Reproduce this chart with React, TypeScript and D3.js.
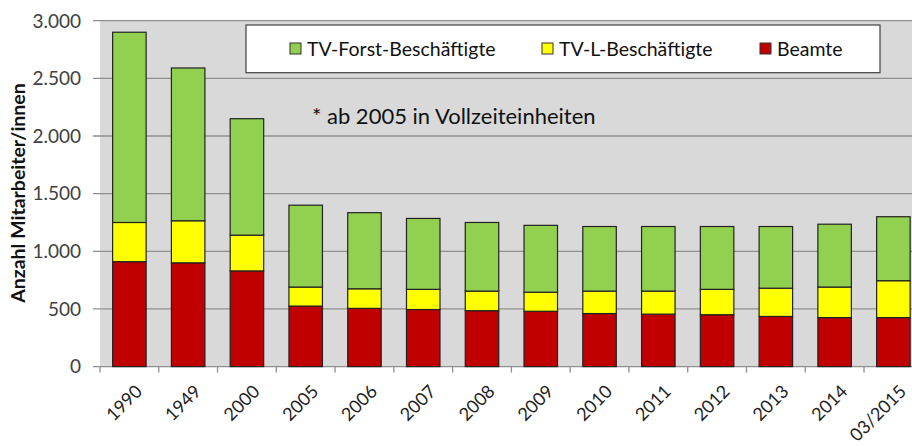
import { scaleBand, scaleLinear, stack, formatLocale } from "d3";

const categories = ["1990", "1949", "2000", "2005", "2006", "2007", "2008", "2009", "2010", "2011", "2012", "2013", "2014", "03/2015"];
const beamte = [910, 900, 830, 525, 505, 495, 485, 480, 460, 455, 450, 435, 425, 425];
const tvL = [340, 365, 310, 165, 170, 175, 170, 165, 195, 200, 220, 245, 265, 320];
const tvForst = [1650, 1325, 1010, 710, 660, 615, 595, 580, 560, 560, 545, 535, 545, 555];
const yTicks = [0, 500, 1000, 1500, 2000, 2500, 3000];

const seriesKeys = ["beamte", "tvL", "tvForst"];
const seriesColors = { beamte: "#c00000", tvL: "#ffff00", tvForst: "#92d050" };
const legendItems = [
  { key: "tvForst", label: "TV-Forst-Beschäftigte" },
  { key: "tvL", label: "TV-L-Beschäftigte" },
  { key: "beamte", label: "Beamte" },
];

const de = formatLocale({ decimal: ",", thousands: ".", grouping: [3], currency: ["", " €"] });
const fmt = de.format(",");

const FONT = "Lato, 'Open Sans', sans-serif";

export default function App() {
  const W = 912;
  const H = 446;
  const left = 100;
  const top = 20.7;
  const bottom = 366.6;
  const step = 58.77;
  const right = left + step * categories.length;

  const rows = categories.map((c, i) => ({ cat: c, beamte: beamte[i], tvL: tvL[i], tvForst: tvForst[i] }));
  const layers = stack().keys(seriesKeys)(rows as any);

  const x = scaleBand().domain(categories).range([left, right]).paddingInner(0.43).paddingOuter(0.215);
  const y = scaleLinear().domain([0, 3000]).range([bottom, top]);
  const half = (x.step() * x.paddingInner()) / 2;

  return (
    <svg width={W} height={H} style={{ position: "absolute", left: 0, top: 0, background: "#fff" }} fontFamily={FONT}>
      <rect x={left} y={top} width={right - left} height={bottom - top} fill="#d9d9d9" />
      {yTicks.map((t) => (
        <g key={t}>
          <line x1={left - 7} x2={right} y1={y(t)} y2={y(t)} stroke="#8f8f8f" strokeWidth={1.3} />
          <text x={81} y={y(t)} dy="0.36em" textAnchor="end" fontSize={19} fill="#404040">
            {fmt(t)}
          </text>
        </g>
      ))}
      {categories.map((c) => (
        <line key={c} x1={x(c)! - half} x2={x(c)! - half} y1={bottom} y2={bottom + 6} stroke="#8f8f8f" strokeWidth={1.3} />
      ))}
      {layers.map((layer) => (
        <g key={layer.key}>
          {layer.map((d, i) => (
            <rect
              key={i}
              x={x(categories[i])}
              y={y(d[1])}
              width={x.bandwidth()}
              height={y(d[0]) - y(d[1])}
              fill={seriesColors[layer.key]}
              stroke="#222"
              strokeWidth={1.2}
            />
          ))}
        </g>
      ))}
      {categories.map((c) => (
        <text
          key={c}
          transform={`translate(${x(c)! + x.bandwidth() / 2 + 5},${bottom + 17}) rotate(-45)`}
          textAnchor="end"
          dy="0.7em"
          fontSize={18}
          fill="#222"
        >
          {c}
        </text>
      ))}
      <text
        transform={`translate(25,193) rotate(-90)`}
        textAnchor="middle"
        fontSize={19.5}
        fontWeight="bold"
        fill="#111"
      >
        Anzahl Mitarbeiter/innen
      </text>
      <rect x={246} y={25} width={634} height={47.7} fill="#fff" stroke="#404040" strokeWidth={1.2} />
      {legendItems.map((it, i) => {
        const lx = [290, 542, 760][i];
        return (
          <g key={it.key}>
            <rect x={lx} y={43} width={11} height={11} fill={seriesColors[it.key]} stroke="#333" strokeWidth={1} />
            <text x={lx + 17} y={49} dy="0.36em" fontSize={19.5} fill="#111">
              {it.label}
            </text>
          </g>
        );
      })}
      <text x={312} y={116} dy="0.36em" fontSize={22} fill="#111">
        * ab 2005 in Vollzeiteinheiten
      </text>
    </svg>
  );
}
